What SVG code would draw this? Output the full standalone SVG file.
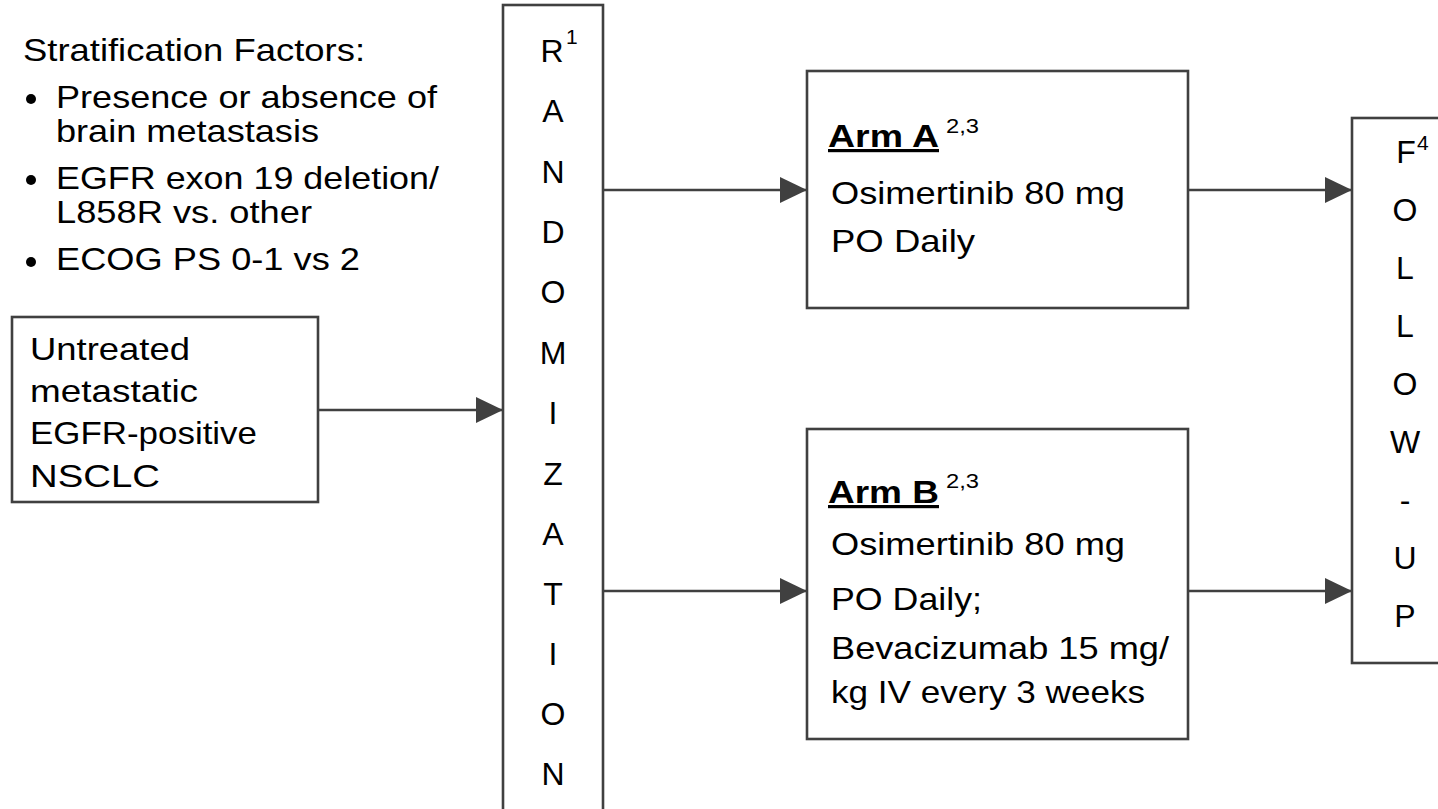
<svg xmlns="http://www.w3.org/2000/svg" width="1438" height="809" viewBox="0 0 1438 809">
<style>
.box{fill:#fff;stroke:#404040;stroke-width:2.6}
.t{font-family:"Liberation Sans",Arial,sans-serif;font-size:32px;fill:#000}
.s{font-family:"Liberation Sans",Arial,sans-serif;font-size:21px;fill:#000}
.b{font-weight:bold;text-decoration:underline}
.c{text-anchor:middle}
.ln{stroke:#404040;stroke-width:2.6;fill:none}
</style>
<defs>
<marker id="ah" markerWidth="27" markerHeight="26" refX="27" refY="13" orient="auto" markerUnits="userSpaceOnUse">
<path d="M0,0 L27,13 L0,26 Z" fill="#404040"/>
</marker>
</defs>
<rect width="1438" height="809" fill="#fff"/>

<g id="strat">
<text class="t" x="23" y="61" textLength="342" lengthAdjust="spacingAndGlyphs">Stratification Factors:</text>
<circle cx="31" cy="99" r="5" fill="#000"/>
<text class="t" x="56" y="108" textLength="381" lengthAdjust="spacingAndGlyphs">Presence or absence of</text>
<text class="t" x="56" y="142" textLength="263" lengthAdjust="spacingAndGlyphs">brain metastasis</text>
<circle cx="31" cy="180" r="5" fill="#000"/>
<text class="t" x="56" y="189" textLength="383" lengthAdjust="spacingAndGlyphs">EGFR exon 19 deletion/</text>
<text class="t" x="56" y="223" textLength="256" lengthAdjust="spacingAndGlyphs">L858R vs. other</text>
<circle cx="31" cy="262" r="5" fill="#000"/>
<text class="t" x="56" y="270" textLength="304" lengthAdjust="spacingAndGlyphs">ECOG PS 0-1 vs 2</text>
</g>

<g id="population">
<rect class="box" x="12" y="317" width="306" height="185"/>
<text class="t" x="30" y="360" textLength="160" lengthAdjust="spacingAndGlyphs">Untreated</text>
<text class="t" x="30" y="402" textLength="168" lengthAdjust="spacingAndGlyphs">metastatic</text>
<text class="t" x="30" y="444" textLength="227" lengthAdjust="spacingAndGlyphs">EGFR-positive</text>
<text class="t" x="30" y="487" textLength="130" lengthAdjust="spacingAndGlyphs">NSCLC</text>
</g>

<g id="randomization">
<rect class="box" x="503" y="5" width="100" height="830"/>
<text class="t c" x="552" y="62">R</text>
<text class="s" x="566" y="44" font-size="20">1</text>
<text class="t c" x="553" y="122">A</text>
<text class="t c" x="553" y="183">N</text>
<text class="t c" x="553" y="243">D</text>
<text class="t c" x="553" y="303">O</text>
<text class="t c" x="553" y="364">M</text>
<text class="t c" x="553" y="424">I</text>
<text class="t c" x="553" y="485">Z</text>
<text class="t c" x="553" y="545">A</text>
<text class="t c" x="553" y="605">T</text>
<text class="t c" x="553" y="665">I</text>
<text class="t c" x="553" y="725">O</text>
<text class="t c" x="553" y="785">N</text>
</g>

<g id="armA">
<rect class="box" x="807" y="71" width="381" height="237"/>
<text class="t b" x="828" y="147" textLength="111" lengthAdjust="spacingAndGlyphs">Arm A</text>
<text class="s" x="946" y="133" textLength="33" lengthAdjust="spacingAndGlyphs">2,3</text>
<text class="t" x="831" y="204" textLength="294" lengthAdjust="spacingAndGlyphs">Osimertinib 80 mg</text>
<text class="t" x="831" y="252" textLength="144" lengthAdjust="spacingAndGlyphs">PO Daily</text>
</g>

<g id="armB">
<rect class="box" x="807" y="429" width="381" height="310"/>
<text class="t b" x="828" y="503" textLength="111" lengthAdjust="spacingAndGlyphs">Arm B</text>
<text class="s" x="946" y="488" textLength="33" lengthAdjust="spacingAndGlyphs">2,3</text>
<text class="t" x="831" y="555" textLength="294" lengthAdjust="spacingAndGlyphs">Osimertinib 80 mg</text>
<text class="t" x="831" y="610" textLength="151" lengthAdjust="spacingAndGlyphs">PO Daily;</text>
<text class="t" x="831" y="659" textLength="338" lengthAdjust="spacingAndGlyphs">Bevacizumab 15 mg/</text>
<text class="t" x="831" y="703" textLength="314" lengthAdjust="spacingAndGlyphs">kg IV every 3 weeks</text>
</g>

<g id="followup">
<rect class="box" x="1352" y="118" width="110" height="545"/>
<text class="t c" x="1406" y="163">F</text>
<text class="s" x="1417" y="150" font-size="20">4</text>
<text class="t c" x="1405" y="221">O</text>
<text class="t c" x="1405" y="279">L</text>
<text class="t c" x="1405" y="337">L</text>
<text class="t c" x="1405" y="395">O</text>
<text class="t c" x="1405" y="453">W</text>
<text class="t c" x="1405" y="511">-</text>
<text class="t c" x="1405" y="569">U</text>
<text class="t c" x="1405" y="627">P</text>
</g>

<g id="connectors">
<line class="ln" x1="318" y1="410" x2="503" y2="410" marker-end="url(#ah)"/>
<line class="ln" x1="603" y1="190" x2="807" y2="190" marker-end="url(#ah)"/>
<line class="ln" x1="603" y1="591" x2="807" y2="591" marker-end="url(#ah)"/>
<line class="ln" x1="1188" y1="190" x2="1352" y2="190" marker-end="url(#ah)"/>
<line class="ln" x1="1188" y1="591" x2="1352" y2="591" marker-end="url(#ah)"/>
</g>
</svg>
